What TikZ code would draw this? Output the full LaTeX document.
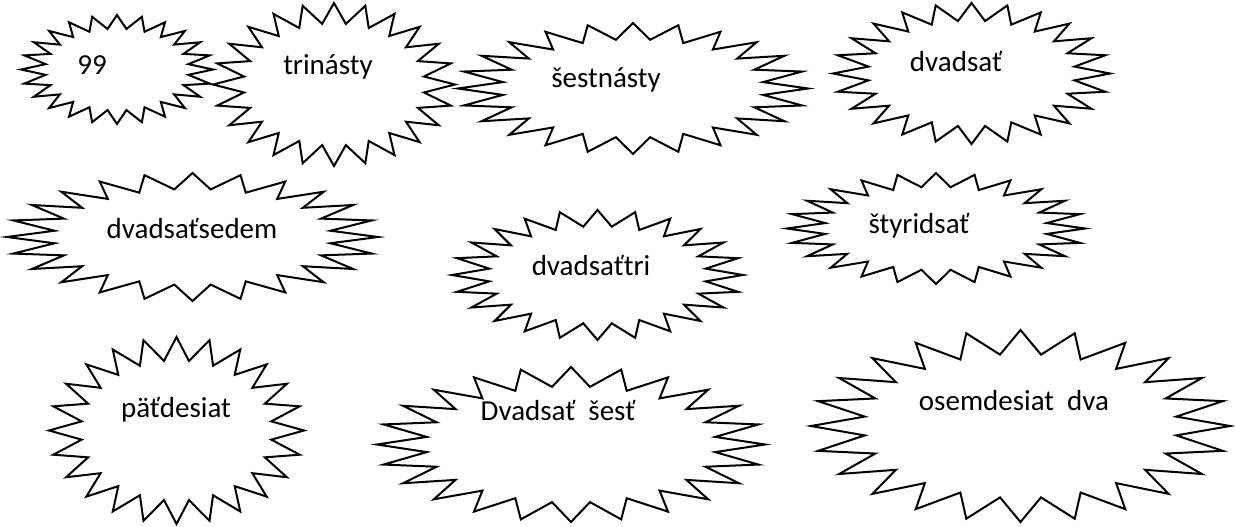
\documentclass[tikz,border=0pt]{standalone}
\usepackage{fontspec}
\setmainfont{Carlito}
\tikzset{
  hviezda/.style={line width=2pt, line join=miter},
  popis/.style={anchor=base, inner sep=0pt, font=\fontsize{29}{35}\selectfont}
}
\begin{document}
\begin{tikzpicture}[x=1pt,y=-1pt]
            \useasboundingbox (0,0) rectangle (1235,527);
            \foreach \cx/\cy/\rx/\ry/\nm/\tx/\px/\py in {
              117/69.5/96/54.5/devatdesiat/99/92/75,
              334/84.5/121/81.5/trinasty/trinásty/328/75,
              633/88.5/175/65.5/sestnasty/šestnásty/606/88,
              971.5/73.5/138.5/70.5/dvadsat/dvadsať/956/72,
              192.5/237/185.5/64/dvadsatsedem/dvadsaťsedem/192/238,
              597.5/275/145.5/65/dvadsattri/dvadsaťtri/591/275,
              936/228.5/149/55.5/styridsat/štyridsať/919/233,
              176.5/430.5/127.5/93.5/patdesiat/päťdesiat/176/417,
              571/444.5/194/77.5/dvadsatsest/Dvadsať\ \ šesť/558/420,
              1020.5/426/209.5/96/osemdesiatdva/osemdesiat\ \ dva/1014/410}
            {
              \draw[hviezda] plot[samples at={0,...,47}]
                ({\cx+(1-0.25*mod(\x,2))*\rx*cos(\x*7.5-90)},
                 {\cy+(1-0.25*mod(\x,2))*\ry*sin(\x*7.5-90)}) -- cycle;
              \node[popis] (\nm) at (\px,\py) {\tx};
            }
\end{tikzpicture}
\end{document}
